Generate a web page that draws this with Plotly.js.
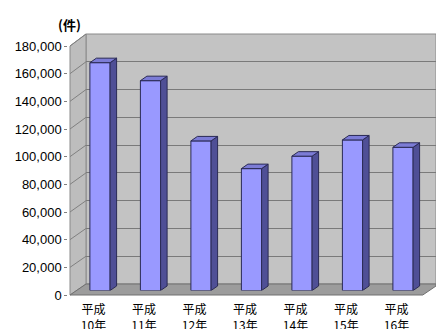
<!DOCTYPE html>
<html><head><meta charset="utf-8">
<script src="https://cdn.plot.ly/plotly-3.0.1.min.js"></script>
<style>html,body{margin:0;padding:0;background:#fff}#chart{width:436px;height:329px}</style>
</head><body><div id="chart"></div>
<script>
// ---- data ----
const categories = ['平成<br>10年','平成<br>11年','平成<br>12年','平成<br>13年','平成<br>14年','平成<br>15年','平成<br>16年'];
const values = [164500, 151500, 108000, 88000, 97000, 108700, 103400];
const yTickVals = [0,20000,40000,60000,80000,100000,120000,140000,160000,180000];
const yTickText = ['0','20,000','40,000','60,000','80,000','100,000','120,000','140,000','160,000','180,000'];
const unitLabel = '(件)';

// ---- geometry (pixels) ----
const W = 436, H = 329;
const YMAX = 180000;
const step = 50.5;
const frontX0 = 70, frontBottom = 295, frontTop = 46;
const backX0 = 86, backBottom = 284, backTop = 34;
const barShift = 6.5, barBottom = 290.5, barTop = 41.2;
const catStartFront = 68.25;
const fx = p => p / W, fy = p => 1 - p / H;
const n = categories.length;
const idx = categories.map((_, i) => i);

const barW = 0.4;
const ddx = 6.5 / step;
const ddy = 4.5 * YMAX / (barBottom - barTop);

const traces = [
  {x:[0,1], y:[0,0], xaxis:'x', yaxis:'y', mode:'markers', marker:{opacity:0}, hoverinfo:'skip', showlegend:false},
  {x:idx, y:values.map(()=>0), xaxis:'x2', yaxis:'y2', mode:'markers', marker:{opacity:0}, hoverinfo:'skip', showlegend:false},
  {type:'bar', x:idx, y:values, xaxis:'x3', yaxis:'y3', width:barW,
   marker:{color:'#9999ff', line:{color:'#2a2a55', width:1}}, hoverinfo:'y', showlegend:false}
];

const shapes = [];
shapes.push({type:'rect', xref:'x domain', yref:'y domain', x0:0, x1:1, y0:0, y1:1,
  fillcolor:'#c3c3c3', line:{color:'#8a8a8a', width:1}, layer:'below'});
shapes.push({type:'path', xref:'paper', yref:'paper', layer:'below',
  path:`M ${fx(frontX0)},${fy(frontBottom)} L ${fx(frontX0)},${fy(frontTop)} L ${fx(backX0)},${fy(backTop)} L ${fx(backX0)},${fy(backBottom)} Z`,
  fillcolor:'#bdbdbd', line:{color:'#8a8a8a', width:1}});
const floorRightFront = catStartFront + n*step + 1;
shapes.push({type:'path', xref:'paper', yref:'paper', layer:'below',
  path:`M ${fx(frontX0)},${fy(frontBottom)} L ${fx(backX0)},${fy(backBottom)} L ${fx(W)},${fy(backBottom)} L ${fx(W)},${fy(backBottom+2)} L ${fx(floorRightFront)},${fy(frontBottom)} Z`,
  fillcolor:'#9c9c9c', line:{color:'#707070', width:1}});
yTickVals.forEach(v => {
  if (v === 0) return;
  const yf = frontBottom - v*(frontBottom-frontTop)/YMAX;
  const yb = backBottom - v*(backBottom-backTop)/YMAX;
  shapes.push({type:'line', xref:'paper', yref:'paper', layer:'below',
    x0:fx(frontX0), y0:fy(yf), x1:fx(backX0), y1:fy(yb), line:{color:'#808080', width:1}});
});
values.forEach((v, i) => {
  const r = i + barW/2, l = i - barW/2;
  shapes.push({type:'path', xref:'x3', yref:'y3', layer:'above',
    path:`M ${r},0 L ${r+ddx},${ddy} L ${r+ddx},${v+ddy} L ${r},${v} Z`,
    fillcolor:'#4f4f96', line:{color:'#2a2a55', width:1}});
  shapes.push({type:'path', xref:'x3', yref:'y3', layer:'above',
    path:`M ${l},${v} L ${l+ddx},${v+ddy} L ${r+ddx},${v+ddy} L ${r},${v} Z`,
    fillcolor:'#7c7cd6', line:{color:'#2a2a55', width:1}});
});

const tickFont = {family:'Liberation Sans, Arial, sans-serif', size:13, color:'#000'};
const layout = {
  width:W, height:H,
  margin:{l:0, r:0, t:0, b:0},
  paper_bgcolor:'#ffffff', plot_bgcolor:'rgba(0,0,0,0)',
  showlegend:false,
  xaxis:{domain:[fx(backX0), 1], range:[0,1], visible:false, fixedrange:true},
  yaxis:{domain:[fy(backBottom), fy(backTop)], range:[0,YMAX], anchor:'x',
         showticklabels:false, ticks:'', showgrid:true, gridcolor:'#7a7a7a', gridwidth:1,
         tickvals:yTickVals, zeroline:false, showline:false},
  xaxis2:{domain:[fx(catStartFront), fx(catStartFront + n*step)], range:[-0.5, n-0.5], anchor:'y2',
          tickvals:idx, ticktext:categories, ticks:'', showgrid:false, zeroline:false, showline:false,
          ticklabelstandoff:6,
          tickfont:{family:'Noto Sans CJK JP, sans-serif', size:12, color:'#000'}},
  yaxis2:{domain:[fy(frontBottom), fy(frontTop)], range:[0,YMAX], anchor:'x2',
          tickvals:yTickVals, ticktext:yTickText, ticks:'outside', ticklen:3, tickcolor:'#808080',
          showgrid:false, zeroline:false, showline:false, tickfont:tickFont},
  xaxis3:{domain:[fx(catStartFront+barShift), fx(catStartFront+barShift+n*step)], range:[-0.5, n-0.5],
          anchor:'y3', visible:false},
  yaxis3:{domain:[fy(barBottom), fy(barTop)], range:[0,YMAX], anchor:'x3', visible:false},
  shapes:shapes,
  annotations:[{text:unitLabel, xref:'paper', yref:'paper', x:fx(69), y:fy(24), xanchor:'center', yanchor:'middle',
    showarrow:false, font:{family:'Noto Sans CJK JP, sans-serif', size:13, color:'#000', weight:'bold'}}]
};
Plotly.newPlot('chart', traces, layout, {staticPlot:true});
</script></body></html>
